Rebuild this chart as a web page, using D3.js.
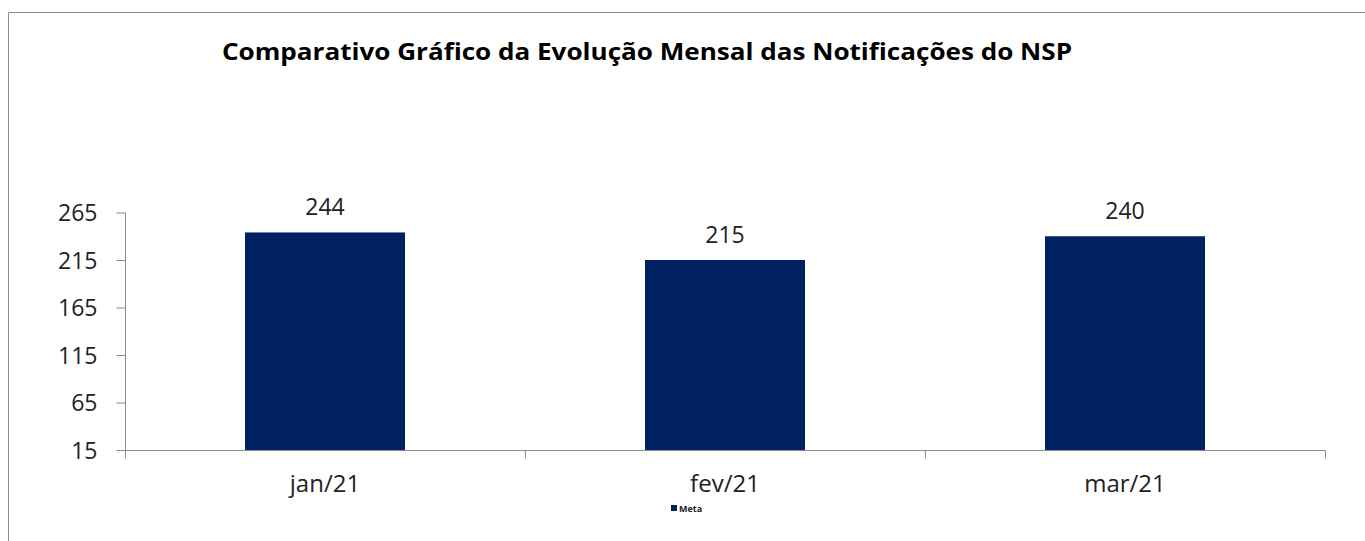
<!DOCTYPE html>
<html><head><meta charset="utf-8">
<script src="https://cdn.jsdelivr.net/npm/d3@7"></script>
<style>body{margin:0;background:#fff}svg{display:block}text{font-family:"Open Sans","DejaVu Sans",sans-serif}</style>
</head><body><svg id="c" width="1365" height="541"></svg>
<script>
const categories = ["jan/21","fev/21","mar/21"];
const values = [244,215,240];
const yTicks = [15,65,115,165,215,265];
const seriesName = "Meta";
const title = "Comparativo Gráfico da Evolução Mensal das Notificações do NSP";

const svg = d3.select("#c");
const color = "#002060";
const textColor = "#222";
// frame
svg.append("path").attr("d","M8.5,541 V12.5 H1365").attr("fill","none").attr("stroke","#8c8c8c").attr("stroke-width",1);

const x = d3.scaleBand().domain(categories).range([125,1325]).paddingInner(0.6).paddingOuter(0.3);
const y = d3.scaleLinear().domain([15,265]).range([450,212.5]);

svg.append("text").attr("x",222).attr("y",59.5).attr("text-anchor","start")
  .attr("font-weight","bold").attr("font-size",23).attr("fill","#000")
  .attr("textLength",850).attr("lengthAdjust","spacingAndGlyphs").text(title);

// y axis
const ya = svg.append("g").attr("transform","translate(125.5,0)")
  .call(d3.axisLeft(y).tickValues(yTicks).tickSize(9).tickPadding(19));
ya.selectAll("path,line").attr("stroke","#8c8c8c");
ya.selectAll("text").attr("font-size",23).attr("fill",textColor).attr("font-family","Open Sans").attr("dy","0.36em");
ya.select(".domain").attr("d","M0,212.5V450.5");

// x axis
const xa = svg.append("g").attr("transform","translate(0,450.5)");
xa.append("line").attr("x1",125).attr("x2",1325.5).attr("stroke","#8c8c8c");
const bounds = [125, ...categories.map(c=>x(c)+x.bandwidth()+ (x.step()-x.bandwidth())/2)];
xa.selectAll("line.t").data(bounds).join("line").attr("class","t")
  .attr("x1",d=>Math.round(d)+0.5).attr("x2",d=>Math.round(d)+0.5).attr("y1",0).attr("y2",8).attr("stroke","#8c8c8c");
xa.selectAll("text").data(categories).join("text")
  .attr("x",d=>x(d)+x.bandwidth()/2).attr("y",41.5).attr("text-anchor","middle")
  .attr("font-size",24).attr("fill",textColor).text(d=>d);

// bars
svg.selectAll("rect.bar").data(values).join("rect").attr("class","bar")
  .attr("x",(d,i)=>x(categories[i])).attr("width",x.bandwidth())
  .attr("y",d=>y(d)).attr("height",d=>y(15)-y(d)).attr("fill",color);

svg.selectAll("text.lbl").data(values).join("text").attr("class","lbl")
  .attr("x",(d,i)=>x(categories[i])+x.bandwidth()/2).attr("y",d=>y(d)-17)
  .attr("text-anchor","middle").attr("font-size",23).attr("fill",textColor).text(d=>d);

// legend
const lg = svg.append("g").attr("transform","translate(671,505)");
lg.append("rect").attr("width",6).attr("height",6).attr("fill",color);
lg.append("text").attr("x",8).attr("y",6.5).attr("font-size",9).attr("font-weight","bold").attr("fill",textColor).text(seriesName);
</script></body></html>
